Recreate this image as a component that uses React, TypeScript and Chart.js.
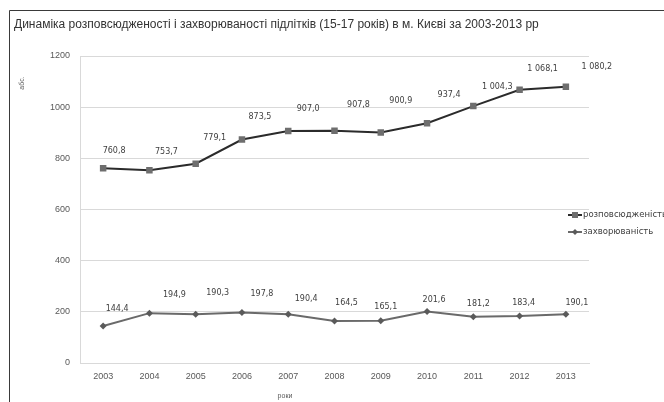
import React, { useEffect, useRef } from "react";
import { Chart, registerables } from "chart.js";

Chart.register(...registerables);

const years = ["2003", "2004", "2005", "2006", "2007", "2008", "2009", "2010", "2011", "2012", "2013"];
const prevalence = [760.8, 753.7, 779.1, 873.5, 907.0, 907.8, 900.9, 937.4, 1004.3, 1068.1, 1080.2];
const incidence = [144.4, 194.9, 190.3, 197.8, 190.4, 164.5, 165.1, 201.6, 181.2, 183.4, 190.1];
const seriesNames = ["розповсюдженість", "захворюваність"];
const titleText = "Динаміка розповсюдженості і захворюваності підлітків (15-17 років) в м. Києві за 2003-2013 рр";
const yTitle = "абс.";
const xTitle = "роки";

// hand-placed value label nudges (px) relative to each point
const prevLabelDx = [11, 17, 19, 18, 20, 24, 20, 22, 24, 23, 31];
const prevLabelDy = [-17, -18, -26, -23, -22, -26, -32, -28, -19, -21, -20];
const incLabelDx = [14, 25, 22, 20, 18, 12, 5, 7, 5, 4, 11];
const incLabelDy = [-17, -18, -21, -18, -15, -18, -14, -12, -13, -13, -11];

const FONT = "'Liberation Sans', Arial, sans-serif";
const LABEL_FONT = "'DejaVu Sans', Verdana, sans-serif";
const W = 664;
const H = 402;

const fmt = (v: number) => {
  const [i, d] = v.toFixed(1).split(".");
  return i.replace(/\B(?=(\d{3})+(?!\d))/g, " ") + "," + d;
};

const decorPlugin = {
  id: "decor",
  afterDraw(chart: any) {
    const ctx = chart.ctx as CanvasRenderingContext2D;
    ctx.save();
    // outer frame
    ctx.strokeStyle = "#3a3a3a";
    ctx.lineWidth = 1;
    ctx.beginPath();
    ctx.moveTo(9.5, H);
    ctx.lineTo(9.5, 10.5);
    ctx.lineTo(W, 10.5);
    ctx.stroke();

    // title
    ctx.fillStyle = "#333333";
    ctx.font = `12px ${FONT}`;
    ctx.textAlign = "left";
    ctx.textBaseline = "middle";
    ctx.fillText(titleText, 14, 25);

    // axis titles
    ctx.fillStyle = "#595959";
    ctx.font = `7px ${FONT}`;
    ctx.textAlign = "center";
    ctx.fillText(xTitle, 285, 396);
    ctx.save();
    ctx.translate(22, 83);
    ctx.rotate(-Math.PI / 2);
    ctx.fillText(yTitle, 0, 0);
    ctx.restore();

    // value labels
    ctx.fillStyle = "#404040";
    ctx.font = `8px ${LABEL_FONT}`;
    ctx.textAlign = "center";
    ctx.textBaseline = "middle";
    const nudges = [
      [prevLabelDx, prevLabelDy],
      [incLabelDx, incLabelDy],
    ];
    chart.data.datasets.forEach((ds: any, di: number) => {
      const meta = chart.getDatasetMeta(di);
      meta.data.forEach((pt: any, i: number) => {
        ctx.fillText(fmt(ds.data[i]), pt.x + nudges[di][0][i], pt.y + nudges[di][1][i]);
      });
    });

    // legend
    const rows = [215, 232];
    chart.data.datasets.forEach((ds: any, di: number) => {
      const y = rows[di];
      ctx.strokeStyle = ds.borderColor;
      ctx.lineWidth = ds.borderWidth;
      ctx.beginPath();
      ctx.moveTo(568, y);
      ctx.lineTo(582, y);
      ctx.stroke();
      ctx.fillStyle = ds.pointBackgroundColor;
      if (di === 0) {
        ctx.fillRect(572, y - 3, 6, 6);
      } else {
        ctx.beginPath();
        ctx.moveTo(575, y - 3);
        ctx.lineTo(578, y);
        ctx.lineTo(575, y + 3);
        ctx.lineTo(572, y);
        ctx.closePath();
        ctx.fill();
      }
      ctx.fillStyle = "#404040";
      ctx.font = `8.5px ${LABEL_FONT}`;
      ctx.textAlign = "left";
      ctx.fillText(ds.label, 583, y);
    });
    ctx.restore();
  },
};

export default function App() {
  const ref = useRef<HTMLCanvasElement>(null);

  useEffect(() => {
    if (!ref.current) return;
    const chart = new Chart(ref.current, {
      type: "line",
      data: {
        labels: years,
        datasets: [
          {
            label: seriesNames[0],
            data: prevalence,
            borderColor: "#2b2b2b",
            borderWidth: 2,
            pointStyle: "rect",
            pointRadius: 4.6,
            pointBackgroundColor: "#6e6e6e",
            pointBorderColor: "#6e6e6e",
            pointBorderWidth: 0,
            tension: 0,
          },
          {
            label: seriesNames[1],
            data: incidence,
            borderColor: "#6a6a6a",
            borderWidth: 2,
            pointStyle: "rectRot",
            pointRadius: 3.5,
            pointBackgroundColor: "#5a5a5a",
            pointBorderColor: "#5a5a5a",
            pointBorderWidth: 0,
            tension: 0,
          },
        ],
      },
      options: {
        animation: false,
        responsive: false,
        events: [],
        layout: { padding: { left: 9, right: 75, top: 56, bottom: 0 } },
        plugins: {
          legend: { display: false },
          title: { display: false },
          tooltip: { enabled: false },
        },
        scales: {
          x: {
            offset: true,
            grid: { display: false },
            border: { display: true, color: "#d9d9d9", width: 1 },
            ticks: { color: "#595959", font: { family: FONT, size: 9 }, padding: 0, maxRotation: 0 },
            afterFit: (s: any) => {
              s.height = 39;
            },
          },
          y: {
            min: 0,
            max: 1200,
            ticks: {
              stepSize: 200,
              color: "#595959",
              font: { family: FONT, size: 9 },
              padding: 10,
              callback: (v: any) => String(v),
            },
            grid: { color: "#d9d9d9", lineWidth: 1, drawTicks: false },
            border: { display: true, color: "#d9d9d9", width: 1 },
            afterFit: (s: any) => {
              s.width = 71;
            },
          },
        },
      },
      plugins: [decorPlugin],
    });
    return () => chart.destroy();
  }, []);

  return (
    <div style={{ position: "fixed", left: 0, top: 0, width: W, height: H, background: "#fff" }}>
      <canvas ref={ref} width={W} height={H} style={{ display: "block" }} />
    </div>
  );
}
